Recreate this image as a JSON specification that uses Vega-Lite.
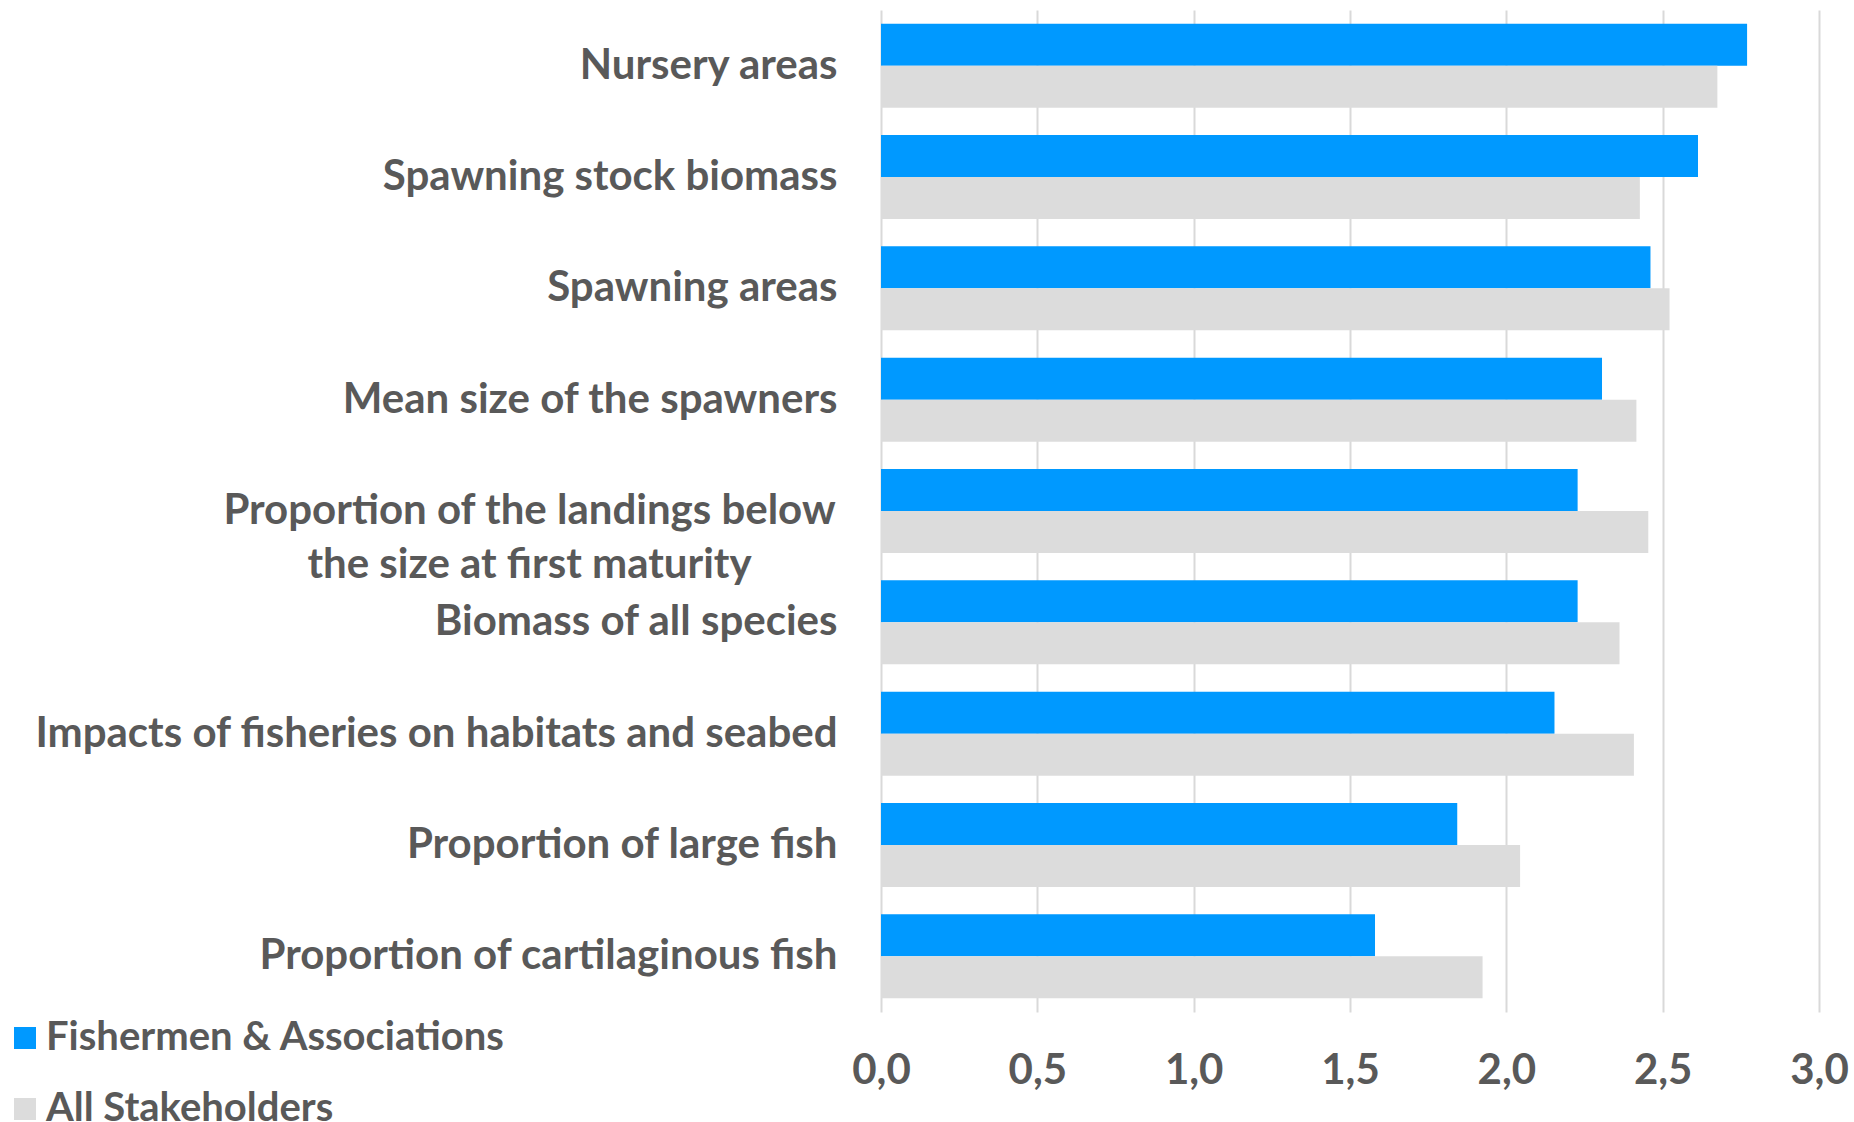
{
  "$schema": "https://vega.github.io/schema/vega-lite/v6.json",
  "width": 938,
  "height": 1002,
  "autosize": {"type": "none"},
  "padding": {"left": 881, "top": 10, "right": 35, "bottom": 110},
  "background": "white",
  "data": {
    "values": [
      {"indicator": "Nursery areas", "group": "Fishermen & Associations", "score": 2.77},
      {"indicator": "Nursery areas", "group": "All Stakeholders", "score": 2.675},
      {"indicator": "Spawning stock biomass", "group": "Fishermen & Associations", "score": 2.613},
      {"indicator": "Spawning stock biomass", "group": "All Stakeholders", "score": 2.427},
      {"indicator": "Spawning areas", "group": "Fishermen & Associations", "score": 2.461},
      {"indicator": "Spawning areas", "group": "All Stakeholders", "score": 2.522},
      {"indicator": "Mean size of the spawners", "group": "Fishermen & Associations", "score": 2.306},
      {"indicator": "Mean size of the spawners", "group": "All Stakeholders", "score": 2.416},
      {"indicator": "Proportion of the landings below the size at first maturity", "group": "Fishermen & Associations", "score": 2.228},
      {"indicator": "Proportion of the landings below the size at first maturity", "group": "All Stakeholders", "score": 2.454},
      {"indicator": "Biomass of all species", "group": "Fishermen & Associations", "score": 2.228},
      {"indicator": "Biomass of all species", "group": "All Stakeholders", "score": 2.362},
      {"indicator": "Impacts of fisheries on habitats and seabed", "group": "Fishermen & Associations", "score": 2.154},
      {"indicator": "Impacts of fisheries on habitats and seabed", "group": "All Stakeholders", "score": 2.408},
      {"indicator": "Proportion of large fish", "group": "Fishermen & Associations", "score": 1.843},
      {"indicator": "Proportion of large fish", "group": "All Stakeholders", "score": 2.044},
      {"indicator": "Proportion of cartilaginous fish", "group": "Fishermen & Associations", "score": 1.58},
      {"indicator": "Proportion of cartilaginous fish", "group": "All Stakeholders", "score": 1.924}
    ]
  },
  "mark": {"type": "bar"},
  "encoding": {
    "y": {
      "field": "indicator",
      "type": "nominal",
      "sort": [
        "Nursery areas",
        "Spawning stock biomass",
        "Spawning areas",
        "Mean size of the spawners",
        "Proportion of the landings below the size at first maturity",
        "Biomass of all species",
        "Impacts of fisheries on habitats and seabed",
        "Proportion of large fish",
        "Proportion of cartilaginous fish"
      ],
      "scale": {"paddingInner": 0.245, "paddingOuter": 0.1225},
      "axis": {
        "title": null,
        "domain": false,
        "ticks": false,
        "grid": false,
        "labelFont": "Lato",
        "labelFontWeight": "bold",
        "labelFontSize": 42,
        "labelColor": "#595959",
        "labelLimit": 1200,
        "labelLineHeight": 54,
        "labelExpr": "indexof(datum.value, 'landings') >= 0 ? ['Proportion of the landings below', 'the size at first maturity'] : datum.value",
        "labelAlign": {"condition": {"test": "indexof(datum.value, 'landings') >= 0", "value": "center"}, "value": "right"},
        "labelPadding": {"condition": {"test": "indexof(datum.value, 'landings') >= 0", "value": 352}, "value": 44}
      }
    },
    "yOffset": {
      "field": "group",
      "type": "nominal",
      "sort": ["Fishermen & Associations", "All Stakeholders"],
      "scale": {"paddingInner": 0, "paddingOuter": 0}
    },
    "x": {
      "field": "score",
      "type": "quantitative",
      "scale": {"domain": [0, 3], "nice": false},
      "axis": {
        "title": null,
        "values": [0, 0.5, 1, 1.5, 2, 2.5, 3],
        "labelExpr": "replace(format(datum.value, '.1f'), '.', ',')",
        "domain": false,
        "ticks": false,
        "grid": true,
        "gridColor": "#D9D9D9",
        "gridWidth": 2,
        "labelFlush": false,
        "labelOverlap": false,
        "labelFont": "Lato",
        "labelFontWeight": "bold",
        "labelFontSize": 42,
        "labelColor": "#595959",
        "labelBaseline": "middle",
        "labelPadding": 58
      }
    },
    "color": {
      "field": "group",
      "type": "nominal",
      "scale": {"domain": ["Fishermen & Associations", "All Stakeholders"], "range": ["#0099FF", "#DCDCDC"]},
      "legend": {
        "title": null,
        "orient": "none",
        "legendX": -876,
        "legendY": 1008,
        "direction": "vertical",
        "symbolType": "square",
        "symbolSize": 484,
        "symbolStrokeWidth": 0,
        "labelFont": "Lato",
        "labelFontWeight": "bold",
        "labelFontSize": 40,
        "labelColor": "#595959",
        "labelOffset": 1,
        "labelLimit": 900,
        "rowPadding": 31
      }
    }
  },
  "config": {"view": {"stroke": null}, "font": "Lato"}
}
